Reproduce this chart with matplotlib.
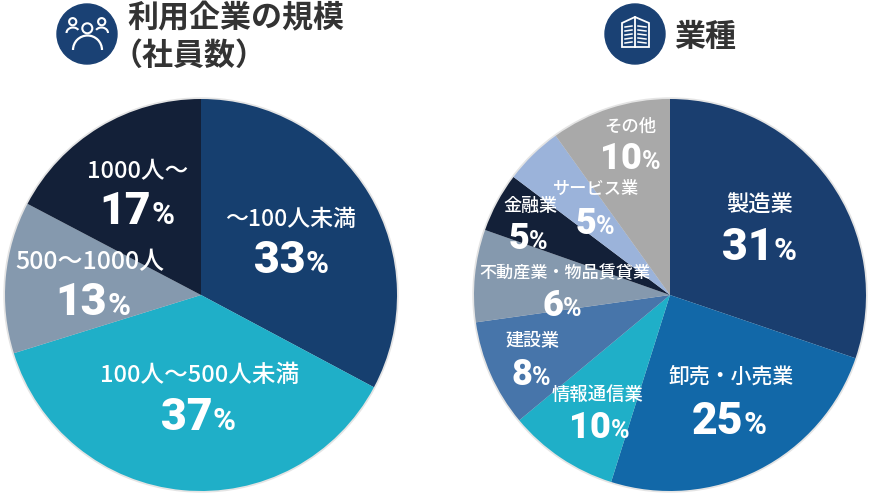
import matplotlib
matplotlib.use('Agg')
import matplotlib.pyplot as plt
from matplotlib.patches import Circle, Arc, Polygon

plt.rcParams['font.family'] = ['Noto Sans CJK JP', 'DejaVu Sans']

# 利用企業の規模
size_labels = ['～100人未満', '100人～500人未満', '500～1000人', '1000人～']
size_values = [33, 37, 13, 17]
# 扇の角度は表示の%と少し違うので図から読んだ値を使う
size_shares = [32.8, 37.4, 12.5, 17.3]
size_colors = ['#163f6f', '#1fafc8', '#8599ae', '#132038']

# 業種
biz_labels = ['製造業', '卸売・小売業', '情報通信業', '建設業', '不動産業・物品賃貸業', '金融業', 'サービス業', 'その他']
biz_values = [31, 25, 10, 8, 6, 5, 5, 10]
biz_shares = [30.2, 24.6, 9.1, 8.8, 7.6, 4.9, 4.8, 9.9]
biz_colors = ['#1a3e6f', '#1268a8', '#1fafc8', '#4775aa', '#8599ae', '#132038', '#9bb3da', '#a9a9a9']

# ラベル位置 (名前のx, 名前のy, 名前の文字サイズ, 数字のx, 数字のy, 数字の文字サイズ)
size_pos = [(291, 218, 16.5, 291, 257, 32), (200, 374, 17, 198, 414, 32),
            (90, 260, 18, 93, 299, 32), (138, 170, 17, 137, 208, 32)]
biz_pos = [(760, 203, 16, 759, 244, 32), (731, 375, 15, 729, 418, 32), (598, 393, 13.2, 599, 425, 26),
           (532, 339, 13, 531, 372, 26), (565, 271, 12.3, 562, 303, 26), (530, 204, 13, 528, 236, 26),
           (596, 187, 12.4, 595, 221, 26), (630, 125, 12.5, 630, 156, 26)]

fig = plt.figure(figsize=(8.7, 4.95), dpi=100)
ax = fig.add_axes([0, 0, 1, 1])


def py(y):
    return 495 - y


def draw_pie(values, colors, cx):
    # 縁のうすい影
    ax.add_patch(Circle((cx, py(295)), 197, color='#e4e4e4', zorder=0))
    ax.pie(values, colors=colors, startangle=90, counterclock=False,
           center=(cx, py(295)), radius=196, frame=True)


def draw_label(label, value, pos):
    x, y1, size, x2, y2, num_size = pos
    ax.text(x, py(y1 + 2), label, color='white', fontsize=size, fontweight='medium', ha='center', va='center')
    # 数字と%は大きさが違うので別々に置いて中央にそろえる
    base = py(y2 + 16 * num_size / 32)
    num = ax.text(x2, base, str(value), color='white', fontsize=num_size, fontweight='black', family='Roboto',
                  ha='left', va='baseline')
    pct = ax.text(x2, base, '%', color='white', fontsize=num_size * 0.7, fontweight='bold', family='Roboto',
                  ha='left', va='baseline')
    renderer = fig.canvas.get_renderer()
    w1 = num.get_window_extent(renderer).width
    w2 = pct.get_window_extent(renderer).width
    left = x2 - (w1 + w2) / 2
    num.set_x(left)
    pct.set_x(left + w1)


draw_pie(size_shares, size_colors, 201)
draw_pie(biz_shares, biz_colors, 670)
ax.set_xlim(0, 870)
ax.set_ylim(0, 495)
ax.set_aspect('auto')
ax.axis('off')

for label, value, pos in zip(size_labels, size_values, size_pos):
    draw_label(label, value, pos)
for label, value, pos in zip(biz_labels, biz_values, biz_pos):
    draw_label(label, value, pos)

# タイトル
title_color = '#333333'
ax.text(127, py(18), '利用企業の規模', color=title_color, fontsize=22.3, fontweight='bold', ha='left', va='center')
ax.text(112, py(56), '（社員数）', color=title_color, fontsize=22.3, fontweight='bold', ha='left', va='center')
ax.text(674, py(37), '業種', color=title_color, fontsize=22.3, fontweight='bold', ha='left', va='center')

# アイコン
navy = '#1a4174'
ax.add_patch(Circle((87, py(34)), 30, color=navy, zorder=3))
ax.add_patch(Circle((635, py(34)), 30, color=navy, zorder=3))

for cx, cy, r in [(72.7, 21.7, 3.6), (87.3, 28.3, 5), (101.7, 21.7, 3.6)]:
    ax.add_patch(Circle((cx, py(cy)), r, fill=False, ec='white', lw=1.5, zorder=4))
ax.add_patch(Arc((87.5, py(50)), 29, 29, theta1=0, theta2=180, ec='white', lw=1.6, zorder=4))
ax.add_patch(Arc((73, py(33)), 13, 11, theta1=30, theta2=180, ec='white', lw=1.5, zorder=4))
ax.add_patch(Arc((101.5, py(33)), 13, 11, theta1=0, theta2=150, ec='white', lw=1.5, zorder=4))

ax.add_patch(Polygon([(622, py(47)), (622, py(23)), (635, py(17)), (649, py(23)), (649, py(47))],
                     closed=True, fill=False, ec='white', lw=1.3, zorder=4))
ax.plot([635, 635], [py(17), py(47)], color='white', lw=1.3, zorder=4)
for y in [26, 30, 34, 38, 42]:
    ax.plot([625, 632], [py(y + 1), py(y)], color='white', lw=1.1, zorder=4)
    ax.plot([638, 646], [py(y), py(y + 1)], color='white', lw=1.1, zorder=4)

fig.savefig('out.png', dpi=100)
